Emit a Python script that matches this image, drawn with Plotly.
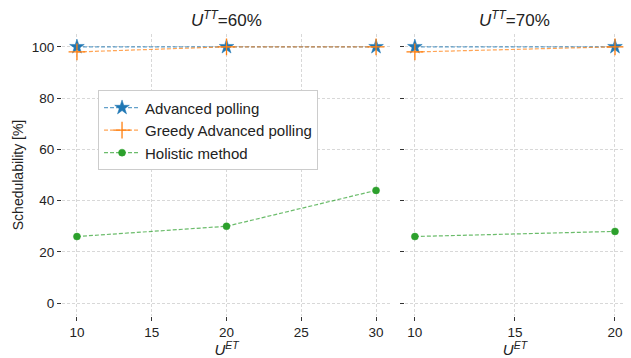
import plotly.graph_objects as go

x_left = [10, 20, 30]
x_right = [10, 20]
ap_left = [100, 100, 100]
greedy_left = [98, 100, 100]
holistic_left = [26, 30, 44]
ap_right = [100, 100]
greedy_right = [98, 100]
holistic_right = [26, 28]

names = ["Advanced polling", "Greedy Advanced polling", "Holistic method"]
colors = ["#1f77b4", "#ff7f0e", "#2ca02c"]
line_colors = ["rgba(31,119,180,0.7)", "rgba(255,127,14,0.7)", "rgba(44,160,44,0.7)"]
symbols = ["star", "cross-thin", "circle"]
sizes = [11, 12, 7]

fig = go.Figure()
panels = [(x_left, [ap_left, greedy_left, holistic_left], "x", "y", True),
          (x_right, [ap_right, greedy_right, holistic_right], "x2", "y2", False)]
for xs, series, xa, ya, show in panels:
    for i, ys in enumerate(series):
        fig.add_trace(go.Scatter(
            x=xs, y=ys, name=names[i], xaxis=xa, yaxis=ya, showlegend=show,
            mode="lines+markers",
            line=dict(color=line_colors[i], width=1.2, dash="4px,2px"),
            marker=dict(symbol=symbols[i], size=sizes[i], color=colors[i],
                        line=dict(color=colors[i], width=1.3 if i == 1 else 0.5)),
        ))

font = "Liberation Sans, Arial, sans-serif"
grid = dict(showgrid=True, gridcolor="#d8d8d8", griddash="3px,2px", gridwidth=0.8,
            zeroline=False, showline=False, ticks="outside", ticklen=4,
            tickcolor="#333", tickfont=dict(size=13.5, color="#222"))

fig.update_layout(
    width=631, height=358,
    margin=dict(l=62, r=6, t=34, b=42),
    plot_bgcolor="white", paper_bgcolor="white",
    font=dict(family=font, color="#222"),
    xaxis=dict(domain=[0, 0.5844], range=[9, 31], tickvals=[10, 15, 20, 25, 30],
               title=dict(text="<i>U</i><sup><i>ET</i></sup>", font=dict(size=15), standoff=2), **grid),
    xaxis2=dict(domain=[0.609, 1], range=[9.5, 20.5], tickvals=[10, 15, 20],
                title=dict(text="<i>U</i><sup><i>ET</i></sup>", font=dict(size=15), standoff=2), **grid),
    yaxis=dict(range=[-5, 105], tickvals=[0, 20, 40, 60, 80, 100],
               title=dict(text="Schedulability [%]", font=dict(size=14), standoff=4), **grid),
    yaxis2=dict(range=[-5, 105], tickvals=[0, 20, 40, 60, 80, 100], anchor="x2",
                showticklabels=False, **grid),
    legend=dict(x=0.064, y=0.80, xanchor="left", yanchor="top",
                bgcolor="white", bordercolor="#cccccc", borderwidth=1,
                font=dict(size=15), tracegroupgap=0, itemwidth=36),
    annotations=[
        dict(text="<i>U</i><sup><i>TT</i></sup>=60%", x=0.2922, y=1.0, xref="paper", yref="paper",
             xanchor="center", yanchor="bottom", yshift=2, showarrow=False, font=dict(size=17)),
        dict(text="<i>U</i><sup><i>TT</i></sup>=70%", x=0.8045, y=1.0, xref="paper", yref="paper",
             xanchor="center", yanchor="bottom", yshift=2, showarrow=False, font=dict(size=17)),
    ],
)

fig.write_html("out.html", config={"displayModeBar": False},
               post_script="document.body.style.margin='0px';")
